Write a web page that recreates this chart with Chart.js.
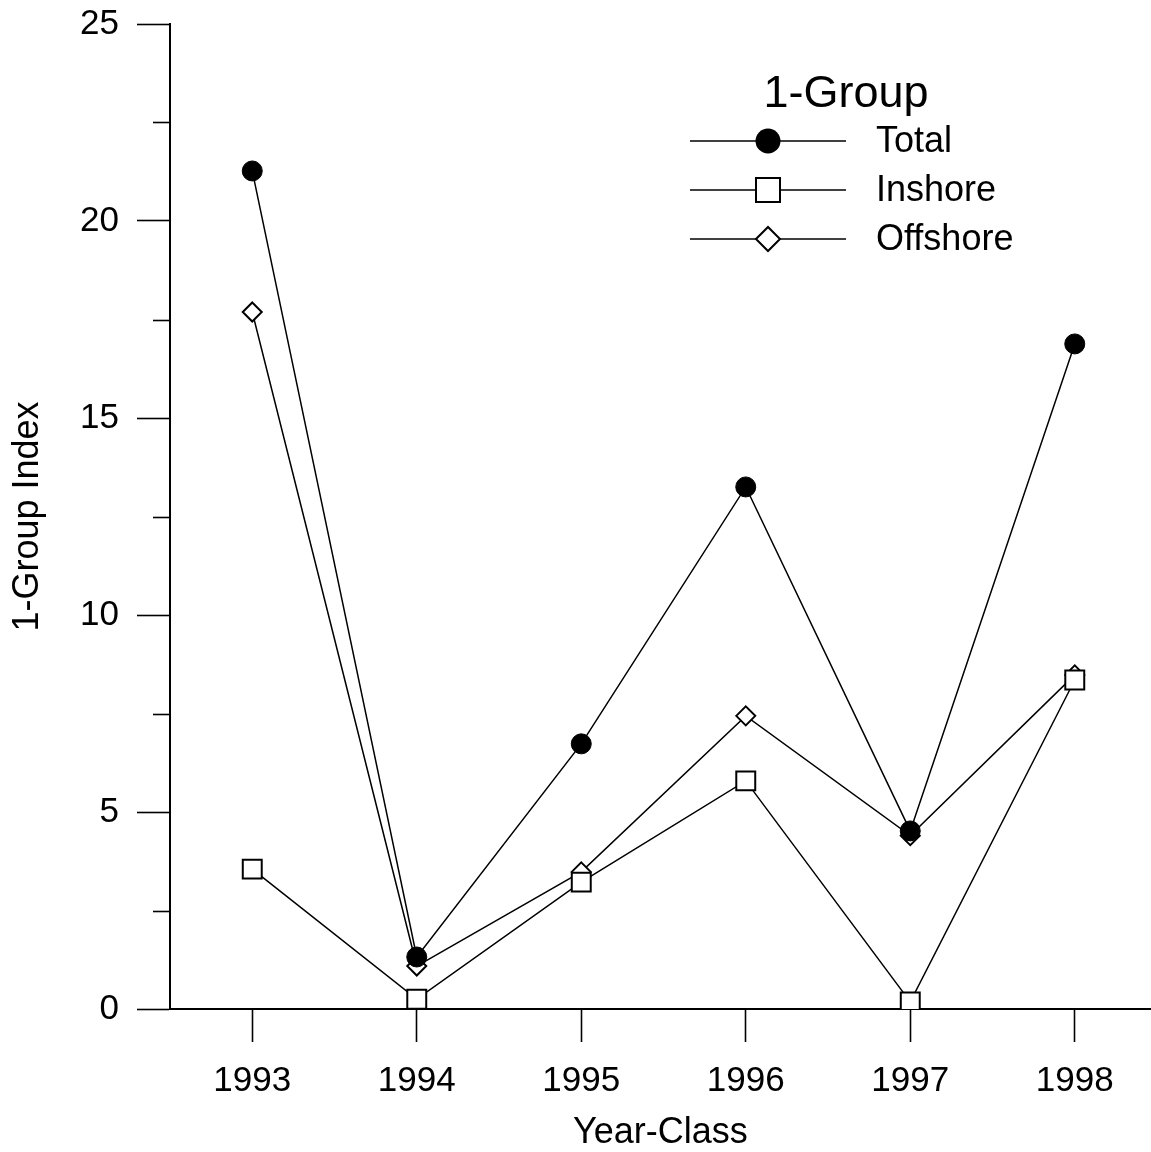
<!DOCTYPE html>
<html>
<head>
<meta charset="utf-8">
<style>
  html, body { margin: 0; padding: 0; background: #fff; overflow: hidden; }
  #wrap { width: 1151px; height: 1152px; position: relative; overflow: hidden; }
  #c { position: absolute; left: 0; top: 0; }
</style>
<script src="https://cdn.jsdelivr.net/npm/chart.js@4/dist/chart.umd.min.js"></script>
</head>
<body>
<div id="wrap"><canvas id="c" width="1166" height="1152"></canvas></div>
<script>
// Year-classes on the x axis
const years = [1993, 1994, 1995, 1996, 1997, 1998];
// 1-Group index per survey area
const totalIdx    = [21.27, 1.32, 6.73, 13.25, 4.52, 16.88];
const inshoreIdx  = [3.55, 0.25, 3.22, 5.79, 0.18, 8.35];
const offshoreIdx = [17.69, 1.09, 3.48, 7.44, 4.40, 8.48];
// Tick labels
const yMajorTicks = [0, 5, 10, 15, 20, 25];
const yMinorTicks = [2.5, 7.5, 12.5, 17.5, 22.5];

const FONT = '"Liberation Sans", Arial, sans-serif';

function pts(vals) { return years.map((y, i) => ({ x: y, y: vals[i] })); }

// Minor y ticks drawn from the y scale
const minorTicks = {
  id: 'minorTicks',
  afterDraw(chart) {
    const ctx = chart.ctx, ys = chart.scales.y;
    const x0 = ys.right;
    ctx.save();
    ctx.strokeStyle = '#000';
    ctx.lineWidth = 1.6;
    yMinorTicks.forEach(v => {
      const py = Math.round(ys.getPixelForValue(v)) + 0.5;
      ctx.beginPath();
      ctx.moveTo(x0 - 17, py);
      ctx.lineTo(x0, py);
      ctx.stroke();
    });
    ctx.restore();
  }
};

// Legend with line through marker, titled "1-Group"
const lineLegend = {
  id: 'lineLegend',
  afterDraw(chart) {
    const ctx = chart.ctx;
    ctx.save();
    ctx.fillStyle = '#000';
    ctx.font = '45px ' + FONT;
    ctx.textAlign = 'center';
    ctx.textBaseline = 'middle';
    ctx.fillText('1-Group', 846, 95);
    ctx.font = '36px ' + FONT;
    ctx.textAlign = 'left';
    const rows = [141, 190, 239];
    chart.data.datasets.forEach((ds, i) => {
      const y = rows[i];
      ctx.strokeStyle = '#000';
      ctx.lineWidth = 1.5;
      ctx.beginPath();
      ctx.moveTo(690, y);
      ctx.lineTo(846, y);
      ctx.stroke();
      const cx = 768;
      ctx.lineWidth = 2;
      ctx.beginPath();
      if (ds.pointStyle === 'circle') {
        ctx.arc(cx, y, 12.5, 0, Math.PI * 2);
        ctx.fillStyle = '#000';
        ctx.fill();
      } else if (ds.pointStyle === 'rect') {
        ctx.rect(cx - 12, y - 12, 24, 24);
        ctx.fillStyle = '#fff';
        ctx.fill();
        ctx.stroke();
      } else {
        ctx.moveTo(cx - 12, y);
        ctx.lineTo(cx, y - 12);
        ctx.lineTo(cx + 12, y);
        ctx.lineTo(cx, y + 12);
        ctx.closePath();
        ctx.fillStyle = '#fff';
        ctx.fill();
        ctx.stroke();
      }
      ctx.fillStyle = '#000';
      ctx.fillText(ds.label, 876, y + 1);
    });
    ctx.restore();
  }
};

new Chart(document.getElementById('c'), {
  type: 'line',
  data: {
    datasets: [
      { label: 'Total', data: pts(totalIdx), pointStyle: 'circle', pointRadius: 10,
        backgroundColor: '#000', borderColor: '#000', borderWidth: 1.5, pointBorderWidth: 1 },
      { label: 'Inshore', data: pts(inshoreIdx), pointStyle: 'rect', pointRadius: 13.4,
        backgroundColor: '#fff', borderColor: '#000', borderWidth: 1.5, pointBorderWidth: 2 },
      { label: 'Offshore', data: pts(offshoreIdx), pointStyle: 'rectRot', pointRadius: 9.5,
        backgroundColor: '#fff', borderColor: '#000', borderWidth: 1.5, pointBorderWidth: 2 }
    ]
  },
  options: {
    responsive: false,
    animation: false,
    events: [],
    layout: { padding: { top: 24, right: 0, left: 0, bottom: 0 } },
    plugins: { legend: { display: false }, tooltip: { enabled: false } },
    scales: {
      x: {
        type: 'linear',
        min: 1992.5,
        max: 1998.461,
        afterBuildTicks(scale) { scale.ticks = years.map(v => ({ value: v })); },
        afterFit(scale) {
          scale.height = 143;
          scale.paddingLeft = 0; scale.paddingRight = 0;
        },
        border: { display: true, color: '#000', width: 2 },
        grid: { drawOnChartArea: false, drawTicks: true, tickLength: 33, color: '#000', tickWidth: 1.6 },
        ticks: { color: '#000', font: { family: FONT, size: 35 }, padding: 18,
                 maxRotation: 0, callback: v => String(v) },
        title: { display: true, text: 'Year-Class', color: '#000',
                 font: { family: FONT, size: 36, lineHeight: 1 }, padding: { top: 0, bottom: 1 } }
      },
      y: {
        min: 0,
        max: 25,
        afterBuildTicks(scale) { scale.ticks = yMajorTicks.map(v => ({ value: v })); },
        afterFit(scale) {
          scale.width = 170;
          scale.paddingTop = 0; scale.paddingBottom = 0;
        },
        border: { display: true, color: '#000', width: 2 },
        grid: { drawOnChartArea: false, drawTicks: true, tickLength: 33, color: '#000', tickWidth: 1.6 },
        ticks: { color: '#000', font: { family: FONT, size: 35 }, padding: 18 },
        title: { display: true, text: '1-Group Index', color: '#000',
                 font: { family: FONT, size: 36, lineHeight: 1 }, padding: { top: 10, bottom: 0 } }
      }
    }
  },
  plugins: [minorTicks, lineLegend]
});
</script>
</body>
</html>
